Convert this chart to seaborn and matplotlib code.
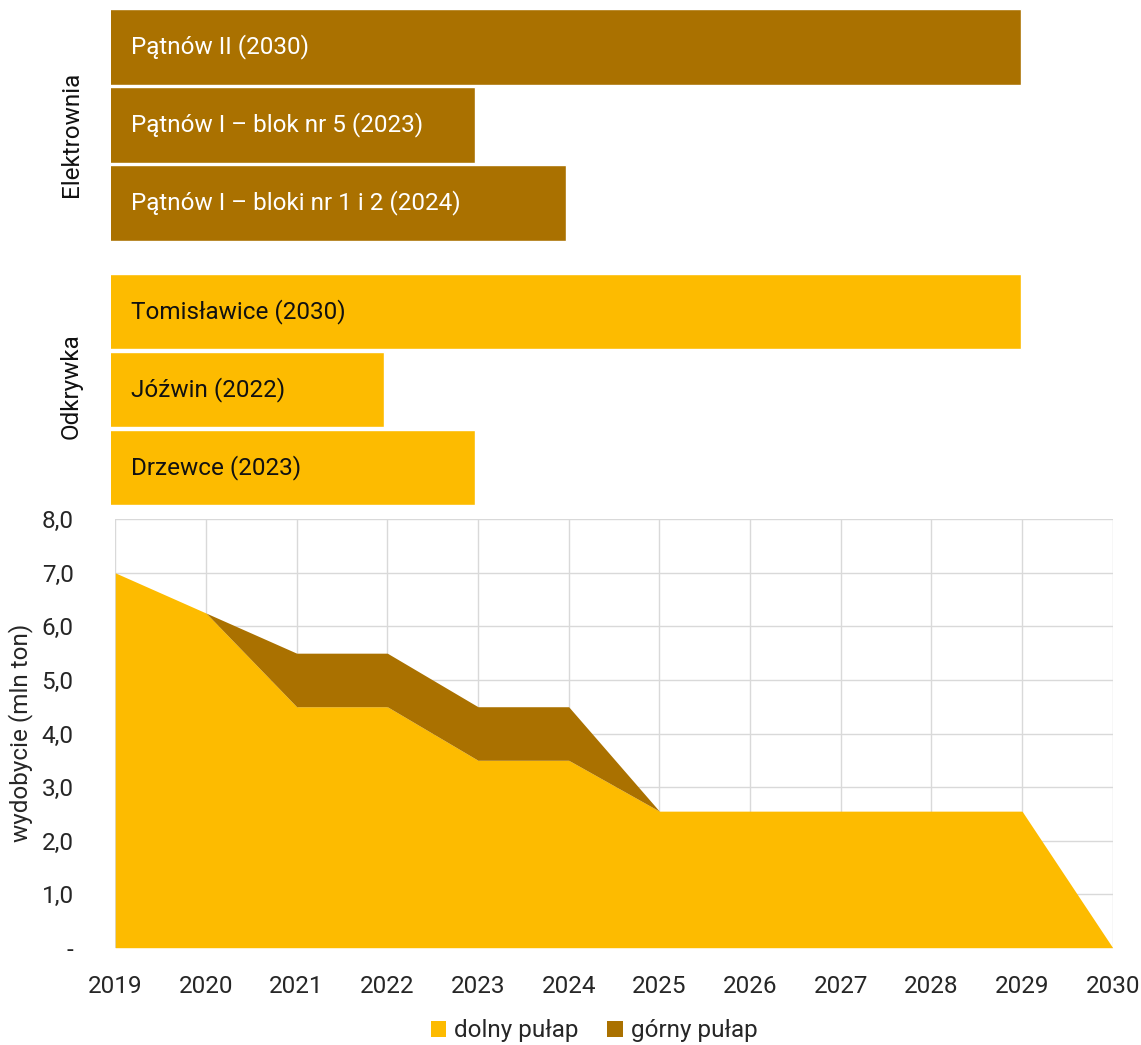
import matplotlib
matplotlib.use("Agg")
import matplotlib.pyplot as plt
import seaborn as sns

# dane
elektrownia_names = ["Pątnów II (2030)", "Pątnów I – blok nr 5 (2023)", "Pątnów I – bloki nr 1 i 2 (2024)"]
elektrownia_end = [2029, 2023, 2024]
odkrywka_names = ["Tomisławice (2030)", "Jóźwin (2022)", "Drzewce (2023)"]
odkrywka_end = [2029, 2022, 2023]

years = [2019, 2020, 2021, 2022, 2023, 2024, 2025, 2026, 2027, 2028, 2029, 2030]
dolny = [7.0, 6.25, 4.5, 4.5, 3.5, 3.5, 2.55, 2.55, 2.55, 2.55, 2.55, 0.0]
gorny = [7.0, 6.25, 5.5, 5.5, 4.5, 4.5, 2.55, 2.55, 2.55, 2.55, 2.55, 0.0]

y_ticks = [0, 1, 2, 3, 4, 5, 6, 7, 8]
y_labels = ["-", "1,0", "2,0", "3,0", "4,0", "5,0", "6,0", "7,0", "8,0"]

BROWN = "#AA7100"
YELLOW = "#FDBB00"
FS = 17.5

sns.set_theme(style="white")
plt.rcParams["font.family"] = ["Roboto", "DejaVu Sans"]

W, H = 1141, 1045
fig = plt.figure(figsize=(W / 100, H / 100), dpi=100)


def px_axes(left, top, right, bottom):
    return fig.add_axes([left / W, 1 - bottom / H, (right - left) / W, (bottom - top) / H])


# --- paski u gory ---
def draw_group(ax, names, ends, color, txt_color, title, label_y):
    sns.barplot(x=ends, y=names, orient="h", color=color, width=0.97,
                saturation=1, ax=ax)
    ax.set_xlim(2019, 2030)
    ax.set_ylim(2.5, -0.5)
    for i, name in enumerate(names):
        ax.annotate(name, xy=(0, i), xycoords=("axes fraction", "data"),
                    xytext=(20, 0), textcoords="offset pixels",
                    va="center", ha="left", fontsize=FS, color=txt_color)
    ax.set_xticks([])
    ax.set_yticks([])
    ax.set_xlabel("")
    ax.set_ylabel(title, fontsize=FS, color="#111111")
    ax.yaxis.set_label_coords(-0.028, label_y)
    sns.despine(ax=ax, left=True, bottom=True)


ax1 = px_axes(111, 8, 1112, 242)
draw_group(ax1, elektrownia_names, elektrownia_end, BROWN, "white", "Elektrownia", 0.46)

ax2 = px_axes(111, 272.5, 1112, 506.5)
draw_group(ax2, odkrywka_names, odkrywka_end, YELLOW, "#111111", "Odkrywka", 0.515)

# --- wykres powierzchniowy ---
ax = px_axes(115.3, 519.3, 1112.7, 947.7)
ax.fill_between(years, 0, dolny, color=YELLOW, lw=0, label="dolny pułap", zorder=3)
ax.fill_between(years, dolny, gorny, color=BROWN, lw=0, label="górny pułap", zorder=3)
ax.set_xlim(2019, 2030)
ax.set_ylim(0, 8)
ax.set_xticks(years)
ax.set_xticklabels([str(y) for y in years])
ax.set_yticks(y_ticks)
ax.set_yticklabels(y_labels)
ax.grid(True, color="#d9d9d9", lw=1)
ax.set_axisbelow(True)
for s in ax.spines.values():
    s.set_visible(False)
ax.tick_params(axis="x", length=0, pad=20, labelsize=FS, labelcolor="#262626")
ax.tick_params(axis="y", length=0, pad=30, labelsize=FS, labelcolor="#262626")

fig.text(21 / W, 1 - 733 / H, "wydobycie (mln ton)", rotation=90, ha="center", va="center",
         fontsize=FS, color="#262626")

handles, labels = ax.get_legend_handles_labels()
fig.legend(handles, labels, loc="center", bbox_to_anchor=(594 / W, 1 - 1031 / H),
           ncol=2, frameon=False, fontsize=FS, handlelength=0.65, handleheight=0.65,
           handletextpad=0.3, columnspacing=1.2)

fig.savefig("out.png", dpi=100)
